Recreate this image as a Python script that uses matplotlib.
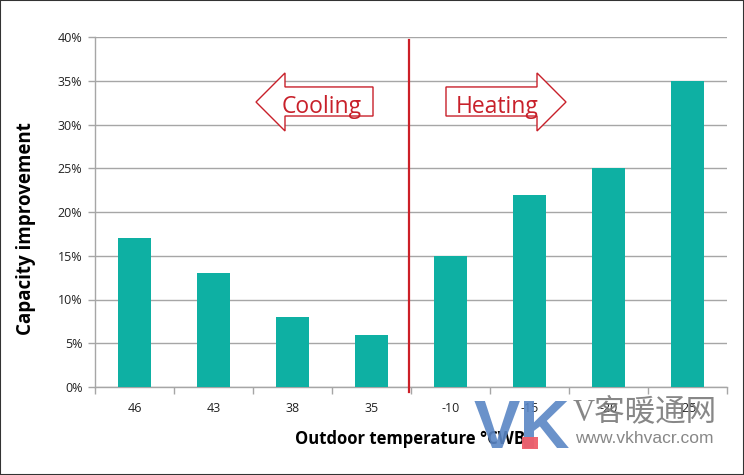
import matplotlib
matplotlib.use("Agg")
import matplotlib.pyplot as plt
from matplotlib.patches import Polygon, Rectangle
from matplotlib.ticker import FuncFormatter, MultipleLocator, FixedLocator

categories = ["46", "43", "38", "35", "-10", "-15", "-20", "-25"]
values = [17, 13, 8, 6, 15, 22, 25, 35]
y_label = "Capacity improvement"
x_label = "Outdoor temperature \u00b0CWB"

W, H = 744, 475
fig = plt.figure(figsize=(W / 100, H / 100), dpi=100)
ax = fig.add_axes([95 / W, 88 / H, 632 / W, 350 / H])

x = list(range(len(categories)))
ax.bar(x, values, width=0.42, color="#0EB0A3", zorder=3)

ax.set_xlim(-0.5, len(categories) - 0.5)
ax.set_ylim(0, 40)
ax.yaxis.set_major_locator(MultipleLocator(5))
ax.yaxis.set_major_formatter(FuncFormatter(lambda v, p: f"{v:.0f}%"))
ax.grid(axis="y", color="#a6a6a6", linewidth=1.0, zorder=0)
ax.set_axisbelow(True)

ax.set_xticks(x)
ax.set_xticklabels(categories)
ax.xaxis.set_minor_locator(FixedLocator([i - 0.5 for i in range(len(categories) + 1)]))
ax.tick_params(axis="x", which="major", length=0, pad=11, labelsize=9, labelcolor="#222222")
ax.tick_params(axis="x", which="minor", length=5, color="#a6a6a6", width=1)
ax.tick_params(axis="y", which="major", length=5, color="#a6a6a6", width=1, pad=4,
               labelsize=9, labelcolor="#222222")
for lab in ax.get_xticklabels() + ax.get_yticklabels():
    lab.set_fontfamily("Open Sans")

for s in ["top", "right"]:
    ax.spines[s].set_visible(False)
for s in ["left", "bottom"]:
    ax.spines[s].set_color("#a6a6a6")
    ax.spines[s].set_linewidth(1)

ax.set_ylabel(y_label, fontsize=13.5, fontweight="bold", fontfamily="Open Sans")
ax.yaxis.set_label_coords(-0.094, 0.454)
ax.set_xlabel(x_label, fontsize=12, fontweight="bold", fontfamily="Open Sans")
ax.xaxis.set_label_coords(0.498, -0.123)

# divider line
ax.plot([3.47, 3.47], [-0.6, 39.7], color="#cc1f27", linewidth=1.6, zorder=5, clip_on=False)

red = "#c8202a"
# Cooling arrow (pointing left)
cool = [(1.538, 32.57), (1.905, 35.89), (1.905, 34.29), (3.019, 34.29),
        (3.019, 30.97), (1.905, 30.97), (1.905, 29.26)]
ax.add_patch(Polygon(cool, closed=True, facecolor="white", edgecolor=red, linewidth=1.0, zorder=4))
# Heating arrow (pointing right)
heat = [(5.462, 32.57), (5.095, 35.89), (5.095, 34.29), (3.943, 34.29),
        (3.943, 30.97), (5.095, 30.97), (5.095, 29.26)]
ax.add_patch(Polygon(heat, closed=True, facecolor="white", edgecolor=red, linewidth=1.0, zorder=4))
ax.text(2.373, 32.0, "Cooling", color=red, fontsize=16.5, fontfamily="Open Sans",
        ha="center", va="center", zorder=6)
ax.text(4.589, 32.0, "Heating", color=red, fontsize=16.5, fontfamily="Open Sans",
        ha="center", va="center", zorder=6)

# watermark
fig.text(474 / W, 1 - 448 / H, "VK", fontsize=50, fontweight="bold", color="#5a86c5",
         fontfamily="Liberation Sans", ha="left", va="baseline", zorder=10, alpha=0.9)
fig.patches.append(Rectangle((522 / W, 1 - 449 / H), 16 / W, 12 / H, transform=fig.transFigure,
                             facecolor="#ef5f6a", edgecolor="none", figure=fig, zorder=11,
                             alpha=0.95))
fig.text(573 / W, 1 - 420 / H, "V客暖通网", fontsize=22, color="#7a7a7a",
         fontfamily=["Liberation Serif", "Noto Sans CJK SC"], ha="left", va="baseline",
         zorder=10, alpha=0.9)
fig.text(575 / W, 1 - 443 / H, "www.vkhvacr.com", fontsize=12.5, color="#7a7a7a",
         fontfamily="Liberation Sans", ha="left", va="baseline", zorder=10, alpha=0.9)

# figure border
fig.patches.append(Rectangle((0, 0), 1, 1, transform=fig.transFigure, facecolor="none",
                             edgecolor="#333333", linewidth=1.5, figure=fig))

fig.savefig("out.png", dpi=100)
